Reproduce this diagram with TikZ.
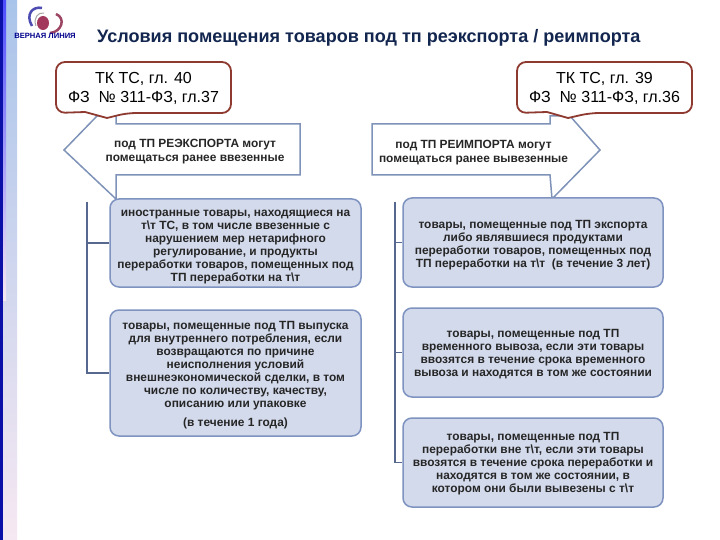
\documentclass[tikz,border=0pt]{standalone}
\usepackage{fontspec}
\setmainfont{Liberation Sans}
\definecolor{frameblue}{HTML}{7F93B8}
\definecolor{calloutred}{HTML}{8E3A30}
\definecolor{boxfill}{HTML}{D3DAEC}
\definecolor{boxline}{HTML}{7E93C0}
\definecolor{conn}{HTML}{56688F}
\definecolor{titleblue}{HTML}{12264F}
\definecolor{stripedark}{HTML}{0A0FA8}
\definecolor{stripetop}{HTML}{A9C4EA}
\definecolor{stripelow}{HTML}{F6E8F2}
\tikzset{
  x=1pt,y=-1pt,
  infobox/.style={draw=boxline,line width=1.5pt,fill=boxfill,rounded corners=9pt,inner sep=0pt},
  boxtext/.style={inner sep=0pt,align=center,font=\fontsize{11.9}{13}\selectfont\bfseries,text=black!85},
  calltext/.style={align=center,font=\fontsize{16}{19}\selectfont,inner sep=0pt},
  headtext/.style={align=center,font=\fontsize{11.9}{14}\selectfont\bfseries,text=black!85,inner sep=0pt},
  arrowline/.style={draw=frameblue,line width=1.5pt,fill=white},
  callout/.style={draw=calloutred,line width=1.8pt,fill=white,rounded corners=9pt},
  trunk/.style={draw=conn,line width=1.3pt},
}
\begin{document}
\begin{tikzpicture}
\useasboundingbox (0,0) rectangle (720,540);
\fill[white] (0,0) rectangle (720,540);
% left stripes
\shade[top color=stripetop,bottom color=stripelow] (3,0) rectangle (17,540);
\fill[stripedark] (0,0) rectangle (3,540);
\shade[top color=blue!70!white,bottom color=stripelow] (3,0) rectangle (6,300);
% logo
\draw[gray!60!blue,line width=2.5pt] (32,26) .. controls (25,14) and (33,6) .. (42,8);
\draw[purple!45!gray,line width=2.5pt] (56,14) .. controls (66,18) and (62,32) .. (50,33);
\draw[gray!70,line width=1pt] (36,26) .. controls (33,18) and (38,12) .. (44,13);
\fill[purple!55!gray] (43,23) ellipse[x radius=6,y radius=7];
\node[font=\fontsize{7.6}{9}\selectfont\bfseries,text=blue!55!black,inner sep=0pt] (logo) at (45,36) {ВЕРНАЯ ЛИНИЯ};
% title
\node[anchor=west,font=\fontsize{18.05}{20}\selectfont\bfseries,text=titleblue,inner sep=0pt] (title) at (97,37.5) {Условия помещения товаров под тп реэкспорта / реимпорта};
% arrows
\draw[arrowline] (116,116) -- (116,124) -- (300,124) -- (300,175) -- (116,175) -- (116,199) -- (64,150) -- (97,116) -- cycle;
\draw[arrowline] (550,116) -- (550,124) -- (372,124) -- (372,175) -- (550,175) -- (552,199) -- (600,150) -- (570,116) -- cycle;
\node[headtext] (hl) at (195,152) {под ТП РЕЭКСПОРТА могут\\помещаться ранее ввезенные};
\node[headtext] (hr) at (473.5,152.5) {под ТП РЕИМПОРТА могут\\помещаться ранее вывезенные};
% callouts
\draw[callout] (56,88) -- (56,62) -- (231,62) -- (231,113) -- (127,113) [sharp corners] -- (107,118) -- (85,112) [rounded corners=9pt] -- (56,113) -- cycle;
\draw[callout] (517,88) -- (517,62) -- (692,62) -- (692,113) -- (590,113) [sharp corners] -- (568,118) -- (547,112) [rounded corners=9pt] -- (517,113) -- cycle;
\node[calltext] (cl) at (143.5,88.5) {ТК ТС, гл. 40\\ФЗ\ \ № 311-ФЗ, гл.37};
\node[calltext] (cr) at (604.5,88.5) {ТК ТС, гл. 39\\ФЗ\ \ № 311-ФЗ, гл.36};
% boxes
\node[infobox,minimum width=251pt,minimum height=88pt] (l1) at (235.5,243) {};
\node[boxtext,yshift=-4pt] (l1t) at (l1) {иностранные товары, находящиеся на\\т\textbackslash т ТС, в том числе ввезенные с\\нарушением мер нетарифного\\регулирование, и продукты\\переработки товаров, помещенных под\\ТП переработки на т\textbackslash т};
\node[infobox,minimum width=251pt,minimum height=126pt] (l2) at (235.5,373) {};
\node[boxtext,yshift=-2pt] (l2t) at (l2) {товары, помещенные под ТП выпуска\\для внутреннего потребления, если\\возвращаются по причине\\неисполнения условий\\внешнеэкономической сделки, в том\\числе по количеству, качеству,\\описанию или упаковке\\[6pt](в течение 1 года)};
\node[infobox,minimum width=260pt,minimum height=89pt] (r1) at (533,242.5) {};
\node[boxtext,yshift=-2.5pt] (r1t) at (r1) {товары, помещенные под ТП экспорта\\либо являвшиеся продуктами\\переработки товаров, помещенных под\\ТП переработки на т\textbackslash т\ \ (в течение 3 лет)};
\node[infobox,minimum width=260pt,minimum height=89pt] (r2) at (533,352.5) {};
\node[boxtext,yshift=-2pt] (r2t) at (r2) {товары, помещенные под ТП\\временного вывоза, если эти товары\\ввозятся в течение срока временного\\вывоза и находятся в том же состоянии};
\node[infobox,minimum width=260pt,minimum height=89pt] (r3) at (533,462.5) {};
\node[boxtext,yshift=-1.5pt] (r3t) at (r3) {товары, помещенные под ТП\\переработки вне т\textbackslash т, если эти товары\\ввозятся в течение срока переработки и\\находятся в том же состоянии, в\\котором они были вывезены с т\textbackslash т};
% connectors
\coordinate (tl) at (87,202);
\coordinate (tr) at (395,202);
\draw[trunk] (tl) |- (l2.west);
\draw[trunk] (tl |- l1.west) -- (l1.west);
\draw[trunk] (tr) |- (r3.west);
\draw[trunk] (tr |- r1.west) -- (r1.west);
\draw[trunk] (tr |- r2.west) -- (r2.west);
\end{tikzpicture}
\end{document}
